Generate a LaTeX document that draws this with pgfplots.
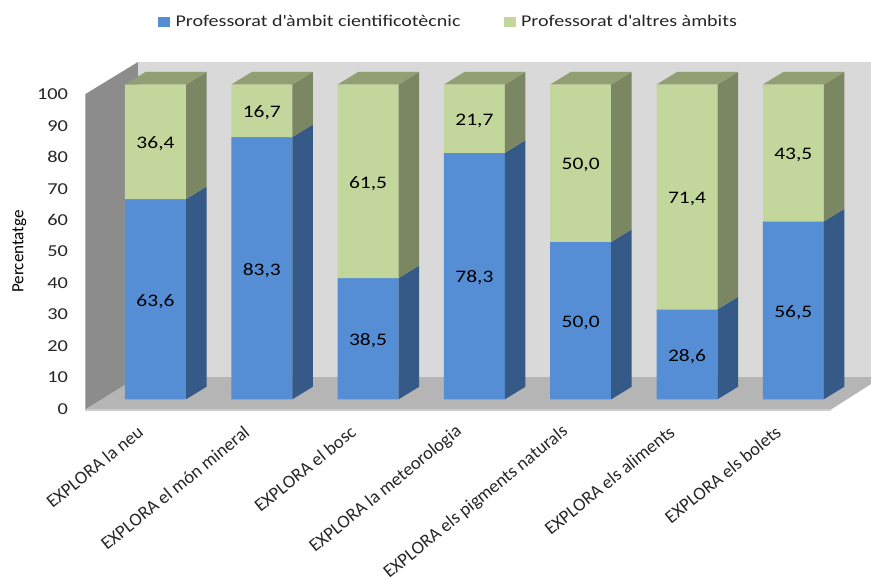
\documentclass[border=0pt]{standalone}
\usepackage{pgfplots}
\usepackage{pgfplotstable}
\usepackage{fontspec}
\pgfplotsset{compat=1.18}
\setmainfont{Carlito}[FakeStretch=1.22]
\newfontfamily\plainfont{Carlito}

\definecolor{blueF}{HTML}{558ED5}
\definecolor{blueS}{HTML}{355A88}
\definecolor{greenF}{HTML}{C3D69B}
\definecolor{greenS}{HTML}{7A8762}
\definecolor{greenT}{HTML}{929F73}
\definecolor{txt}{HTML}{262626}

\pgfplotstableread{
x b g
0 63.6 36.4
1 83.3 16.7
2 38.5 61.5
3 78.3 21.7
4 50.0 50.0
5 28.6 71.4
6 56.5 43.5
}\shares

% side and top faces of one bar: #1 position, #2 blue share
\newcommand{\barfaces}[2]{
  \pgfmathsetmacro\xa{#1+0.287}
  \pgfmathsetmacro\xb{#1+0.480}
  \pgfmathsetmacro\xc{#1-0.287}
  \pgfmathsetmacro\xd{#1-0.094}
  \pgfmathsetmacro\yb{#2+3.98}
  \addplot[forget plot, draw=none, fill=blueS] coordinates {(\xa,0) (\xb,3.98) (\xb,\yb) (\xa,#2)} --cycle;
  \addplot[forget plot, draw=none, fill=greenS] coordinates {(\xa,#2) (\xb,\yb) (\xb,103.98) (\xa,100)} --cycle;
  \addplot[forget plot, draw=none, fill=greenT] coordinates {(\xc,100) (\xd,103.98) (\xb,103.98) (\xa,100)} --cycle;
}

\begin{document}
\begin{tikzpicture}
\begin{axis}[
    scale only axis,
    width=653.25pt, height=432pt,
    xmin=-1.4628, xmax=6.7310,
    ymin=-56.13, ymax=126.84,
    axis line style={draw=none},
    tick style={draw=none},
    xtick={0,1,2,3,4,5,6},
    xticklabels={EXPLORA la neu, EXPLORA el món mineral, EXPLORA el bosc, EXPLORA la meteorologia, EXPLORA els pigments naturals, EXPLORA els aliments, EXPLORA els bolets},
    xticklabel style={font=\plainfont\fontsize{13.8}{15}\selectfont, text=txt, xshift=-8.5pt, yshift=112pt, rotate=39, anchor=east},
    ytick={0,10,...,100},
    /pgf/number format/assume math mode=true,
    yticklabel style={font=\fontsize{12.5}{14}\selectfont, text=txt, xshift=54.5pt, yshift=-7.3pt},
    legend columns=2,
    legend style={draw=none, fill=none, at={(axis cs:2.76,119.8)}, anchor=center,
        font=\fontsize{12.3}{14}\selectfont, text=txt,
        /tikz/every even column/.append style={column sep=30.5pt}},
    legend image code/.code={\fill[#1] (0pt,-3.8pt) rectangle (9pt,3.8pt); \path (0pt,0pt) -- (11pt,0pt);},
]
% walls and floor
\addplot[forget plot, draw=none, fill=black!45] coordinates {(-0.6585,-3.24) (-0.6585,96.98) (-0.1646,107.15) (-0.1646,7.08)} --cycle;
\addplot[forget plot, draw=none, fill=black!15] coordinates {(-0.1646,107.15) (6.731,107.15) (6.731,7.08) (-0.1646,7.08)} --cycle;
\addplot[forget plot, draw=none, fill=black!29] coordinates {(-0.6585,-3.24) (-0.1646,7.08) (6.731,7.08) (6.731,4.86) (6.355,-3.24)} --cycle;
\addplot[forget plot, draw=black!20, line width=1pt] coordinates {(-0.6585,-3.4) (6.355,-3.4)};

% front faces
\addplot[ybar, stack plots=y, bar width=45.75pt, bar shift=0pt, draw=none, fill=blueF] table[x=x, y=b] {\shares};
\addlegendentry{Professorat d\textquotesingle àmbit cientificotècnic}
\addplot[ybar, stack plots=y, bar width=45.75pt, bar shift=0pt, draw=none, fill=greenF] table[x=x, y=g] {\shares};
\addlegendentry{Professorat d\textquotesingle altres àmbits}

\barfaces{0}{63.6}
\barfaces{1}{83.3}
\barfaces{2}{38.5}
\barfaces{3}{78.3}
\barfaces{4}{50.0}
\barfaces{5}{28.6}
\barfaces{6}{56.5}

% value labels
\addplot[forget plot, stack plots=false, only marks, mark=none, point meta=explicit symbolic,
    nodes near coords, every node near coord/.style={anchor=center, yshift=-1.5pt, text=black, font=\fontsize{13.2}{15}\selectfont}]
  table[x=x, y=y, meta=t, row sep=\\] {
    x y t\\
    0 31.8 63,6\\ 0 81.8 36,4\\
    1 41.65 83,3\\ 1 91.65 16,7\\
    2 19.25 38,5\\ 2 69.25 61,5\\
    3 39.15 78,3\\ 3 89.15 21,7\\
    4 25.0 50,0\\ 4 75.0 50,0\\
    5 14.3 28,6\\ 5 64.3 71,4\\
    6 28.25 56,5\\ 6 78.25 43,5\\
  };

\node[rotate=90, font=\plainfont\fontsize{12.8}{14}\selectfont, text=black] at (axis cs:-1.28,47) {Percentatge};
\end{axis}
\pgfresetboundingbox
\path[use as bounding box] (0,0) rectangle (653.25pt,432pt);
\end{tikzpicture}
\end{document}
